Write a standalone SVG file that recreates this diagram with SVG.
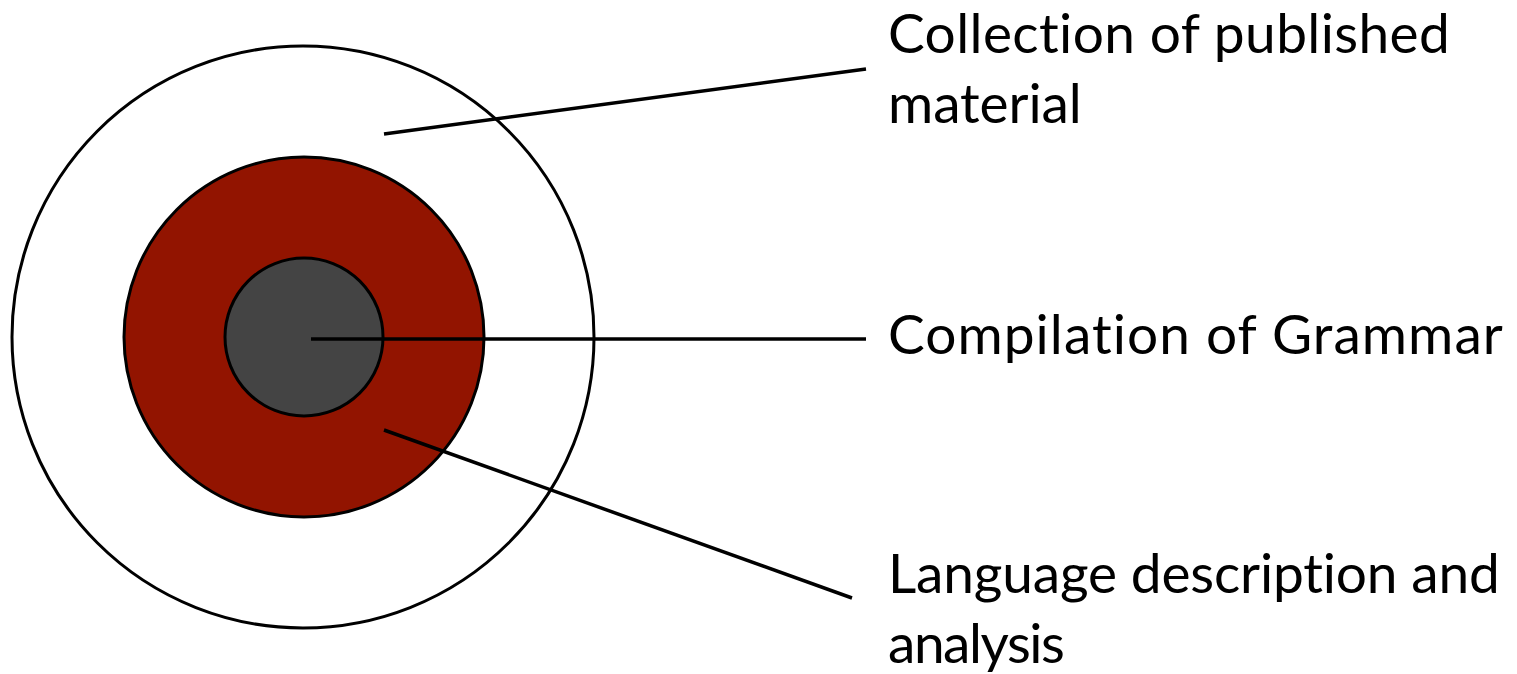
<svg xmlns="http://www.w3.org/2000/svg" width="1517" height="674" viewBox="0 0 1517 674">
<style>
.ring{stroke:#000;stroke-width:3}
.conn{stroke:#000;stroke-width:3.5;fill:none}
.lbl{font-family:Lato,"Open Sans","Liberation Sans",sans-serif;font-size:55px;fill:#000;font-variant-ligatures:none;font-feature-settings:"liga" 0,"clig" 0,"dlig" 0;letter-spacing:0.2px}
</style>
<rect width="1517" height="674" fill="#fff"/>
<g id="outer"><circle class="ring" cx="303" cy="337" r="291" fill="#fff"/></g>
<g id="middle"><circle class="ring" cx="304" cy="337" r="180" fill="#921400"/></g>
<g id="inner"><circle class="ring" cx="304" cy="337" r="79" fill="#444444"/></g>
<g id="connectors">
<line class="conn" x1="384" y1="134" x2="866" y2="69"/>
<line class="conn" x1="311" y1="339" x2="866" y2="339"/>
<line class="conn" x1="384" y1="430" x2="852" y2="598"/>
</g>
<g id="label-collection">
<text class="lbl" x="888" y="53" textLength="562">Collection of published</text>
<text class="lbl" x="888" y="123" textLength="194">material</text>
</g>
<g id="label-compilation">
<text class="lbl" x="888" y="354" textLength="615">Compilation of Grammar</text>
</g>
<g id="label-language">
<text class="lbl" x="888" y="593" textLength="612">Language description and</text>
<text class="lbl" x="888" y="663" textLength="177">analysis</text>
</g>
</svg>
